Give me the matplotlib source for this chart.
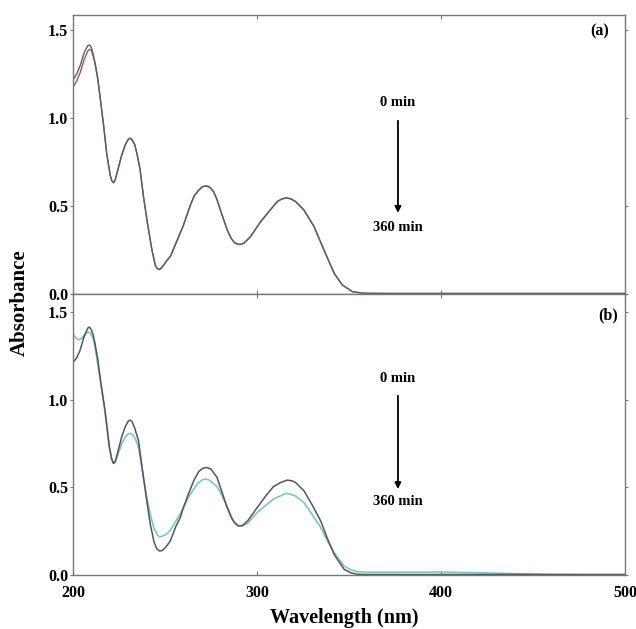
import matplotlib
matplotlib.use("Agg")
import matplotlib.pyplot as plt

# ---------------- data ----------------
# panel (a): 0 min (gray) and 360 min (red)
wl_a = [200, 202, 204, 206, 208, 209, 210, 211, 212, 213.5, 214.7, 216.5, 218.3,
        220.2, 221, 222, 223, 224.5, 226.5, 228.5, 230, 231, 232, 233.5, 234.7,
        236.5, 238.3, 240.5, 242.9, 244.7, 245.5, 246.5, 247.5, 249, 251, 253,
        256, 258, 260, 263.8, 266, 268.3, 270.5, 272.5, 274.5, 276.5, 278.3,
        280.1, 283.8, 286, 288, 290, 291, 293, 296.5, 301.9, 307.4, 311, 313.5,
        316, 318.5, 321, 325.5, 331, 336.4, 341.9, 346.4, 351.9, 358, 370, 400,
        450, 500]
abs_a_0 = [1.216, 1.25, 1.30, 1.37, 1.41, 1.415, 1.40, 1.36, 1.31, 1.22, 1.12,
           0.97, 0.80, 0.676, 0.645, 0.632, 0.65, 0.71, 0.79, 0.85, 0.878, 0.885,
           0.878, 0.85, 0.80, 0.705, 0.553, 0.40, 0.25, 0.165, 0.148, 0.14, 0.142,
           0.16, 0.19, 0.215, 0.29, 0.34, 0.39, 0.505, 0.56, 0.59, 0.61, 0.614,
           0.605, 0.58, 0.535, 0.477, 0.364, 0.315, 0.29, 0.282, 0.282, 0.29,
           0.326, 0.41, 0.48, 0.525, 0.54, 0.546, 0.54, 0.525, 0.477, 0.383, 0.25,
           0.118, 0.051, 0.013, 0.004, 0.003, 0.003, 0.003, 0.003]
abs_a_360 = [1.174, 1.21, 1.26, 1.33, 1.38, 1.39, 1.385, 1.35, 1.31, 1.22, 1.12,
             0.97, 0.80, 0.676, 0.645, 0.632, 0.65, 0.71, 0.79, 0.85, 0.878, 0.885,
             0.878, 0.85, 0.80, 0.705, 0.553, 0.40, 0.25, 0.165, 0.148, 0.14, 0.142,
             0.16, 0.19, 0.215, 0.29, 0.34, 0.39, 0.505, 0.56, 0.59, 0.61, 0.614,
             0.605, 0.58, 0.535, 0.477, 0.364, 0.315, 0.29, 0.282, 0.282, 0.29,
             0.326, 0.41, 0.48, 0.525, 0.54, 0.546, 0.54, 0.525, 0.477, 0.383, 0.25,
             0.118, 0.051, 0.013, 0.004, 0.003, 0.003, 0.003, 0.003]

# panel (b): 0 min (gray) and 360 min (teal)
wl_b0 = [200, 202, 203.8, 206, 208, 209, 210, 211, 212, 213.5, 214.7, 217.4, 219.8,
         221, 222, 223, 224.5, 226.5, 228.5, 230, 231, 232, 233.5, 235.6, 238.3,
         240, 242, 244, 245.5, 247, 248.5, 250.5, 252.9, 256, 258.3, 260, 263,
         265.6, 268.3, 270.5, 272.9, 275, 278.3, 280.1, 283.8, 286, 288, 290, 292,
         295, 300.1, 305, 309, 312.8, 316.4, 319, 321, 325.5, 330, 334.6, 338,
         341.9, 347.3, 351, 354.6, 360, 400, 450, 500]
abs_b_0 = [1.215, 1.24, 1.282, 1.36, 1.41, 1.416, 1.40, 1.37, 1.32, 1.23, 1.13,
           0.94, 0.729, 0.665, 0.637, 0.65, 0.71, 0.79, 0.85, 0.878, 0.885, 0.878,
           0.84, 0.767, 0.557, 0.43, 0.29, 0.19, 0.15, 0.137, 0.14, 0.16, 0.195,
           0.28, 0.328, 0.385, 0.47, 0.538, 0.59, 0.61, 0.614, 0.605, 0.557, 0.50,
           0.385, 0.33, 0.295, 0.28, 0.282, 0.31, 0.385, 0.455, 0.505, 0.528,
           0.542, 0.538, 0.528, 0.481, 0.40, 0.309, 0.215, 0.118, 0.033, 0.012,
           0.004, 0.003, 0.003, 0.003, 0.003]
wl_b360 = [200, 201.5, 202.9, 204.5, 206.5, 208.3, 209.5, 211, 212, 214.7, 217.4,
           219.8, 221, 222, 223, 224.5, 226.5, 228.5, 230, 231, 232.5, 234, 235.6,
           238.3, 240, 242, 244, 246, 247, 248.5, 250.5, 252.9, 256, 258.3, 260,
           263, 265.6, 268, 270.5, 272, 274, 276.5, 278.3, 280, 283.8, 287, 290,
           292, 295, 300.1, 305, 309, 312.8, 315.5, 318, 321, 325.5, 330, 334.6,
           338, 341.9, 347.3, 351, 354.6, 360, 380, 400, 420, 440, 463, 500]
abs_b_360 = [1.378, 1.355, 1.343, 1.35, 1.375, 1.387, 1.38, 1.35, 1.30, 1.12, 0.93,
             0.725, 0.66, 0.637, 0.645, 0.69, 0.75, 0.79, 0.805, 0.809, 0.80, 0.775,
             0.729, 0.557, 0.45, 0.347, 0.265, 0.228, 0.218, 0.222, 0.232, 0.255,
             0.31, 0.35, 0.385, 0.45, 0.49, 0.525, 0.545, 0.548, 0.543, 0.52, 0.505,
             0.475, 0.39, 0.31, 0.28, 0.28, 0.295, 0.357, 0.40, 0.435, 0.452, 0.466,
             0.463, 0.45, 0.414, 0.345, 0.271, 0.20, 0.128, 0.052, 0.03, 0.019,
             0.016, 0.016, 0.017, 0.013, 0.008, 0.002, 0.0]

y_ticks = [0.0, 0.5, 1.0, 1.5]
x_ticks = [200, 300, 400, 500]

# ---------------- figure ----------------
plt.rcParams['font.family'] = ['Liberation Serif', 'DejaVu Serif']
plt.rcParams['font.weight'] = 'bold'

fig = plt.figure(figsize=(6.36, 6.29), dpi=100)
left, right = 73 / 636, 625 / 636
ax_a = fig.add_axes([left, 1 - 294 / 629, right - left, (294 - 15) / 629])
ax_b = fig.add_axes([left, 1 - 575 / 629, right - left, (575 - 294) / 629])

spine_col = '#777777'
for ax in (ax_a, ax_b):
    ax.set_xlim(200, 500)
    ax.set_yticks(y_ticks)
    ax.set_xticks(x_ticks)
    for s in ax.spines.values():
        s.set_color(spine_col)
        s.set_linewidth(1.0)
    ax.tick_params(axis='y', which='both', left=True, right=True, direction='out',
                   length=2, color=spine_col, labelsize=11.5, pad=1.5)
    ax.tick_params(axis='x', which='both', top=True, bottom=True, direction='in',
                   length=3, color=spine_col, labelsize=11.5, pad=7)
    for lab in ax.get_xticklabels() + ax.get_yticklabels():
        lab.set_fontweight('bold')

ax_a.set_ylim(0, 1.585)
ax_b.set_ylim(0, 1.605)
ax_a.tick_params(axis='x', labelbottom=False)

ax_a.plot(wl_a, abs_a_360, color='#a4554f', lw=1.0)
ax_a.plot(wl_a, abs_a_0, color='#5e5e5e', lw=1.0)

ax_b.plot(wl_b360, abs_b_360, color='#7ec3c7', lw=1.2)
ax_b.plot(wl_b0, abs_b_0, color='#555555', lw=1.1)

txt = dict(fontsize=10.5, fontweight='bold', ha='center', va='center')
ax_a.text(376.6, 1.09, '0 min', **txt)
ax_a.text(376.6, 0.375, '360 min', **txt)
ax_a.annotate('', xy=(376.6, 0.445), xytext=(376.6, 1.0),
              arrowprops=dict(arrowstyle='-|>', color='black', lw=1.3,
                              mutation_scale=9))
ax_a.text(486, 1.49, '(a)', fontsize=11.5, fontweight='bold', ha='center', va='center')

ax_b.text(376.6, 1.12, '0 min', **txt)
ax_b.text(376.6, 0.418, '360 min', **txt)
ax_b.annotate('', xy=(376.6, 0.475), xytext=(376.6, 1.04),
              arrowprops=dict(arrowstyle='-|>', color='black', lw=1.3,
                              mutation_scale=9))
ax_b.text(490.6, 1.48, '(b)', fontsize=11.5, fontweight='bold', ha='center', va='center')

fig.text(344 / 636, 1 - 618 / 629, 'Wavelength (nm)', fontsize=14.5,
         fontweight='bold', ha='center', va='center')
fig.text(20 / 636, 1 - 303 / 629, 'Absorbance', fontsize=15, fontweight='bold',
         ha='center', va='center', rotation=90)

fig.savefig('out.png', dpi=100)
